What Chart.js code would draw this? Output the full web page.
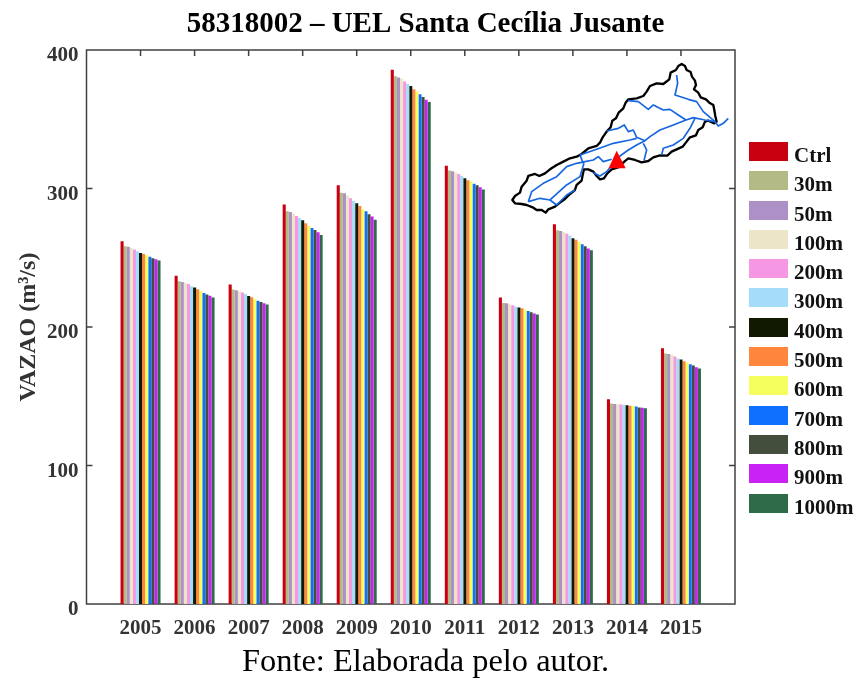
<!DOCTYPE html>
<html>
<head>
<meta charset="utf-8">
<script src="https://cdn.jsdelivr.net/npm/chart.js@4"></script>
<style>
html, body { margin: 0; padding: 0; background: #fff; }
#wrap { position: relative; width: 857px; height: 679px; overflow: hidden; }
#grafico { position: absolute; left: 0; top: 0; }
#mapa { position: absolute; left: 0; top: 0; pointer-events: none; }
#legenda { position: absolute; left: 749px; top: 142px; font: bold 21px "Liberation Serif", serif; color: #111; }
#legenda div { position: relative; height: 29.3px; }
#legenda i { position: absolute; left: 0; top: 0; width: 39px; height: 19px; }
#legenda span { position: absolute; left: 45px; top: 1px; line-height: 24px; white-space: nowrap; }
</style>
</head>
<body>
<div id="wrap">
<canvas id="grafico" width="857" height="679"></canvas>
<svg id="mapa" width="857" height="679"></svg>
<div id="legenda"></div>
</div>
<script>
const anos = [2005, 2006, 2007, 2008, 2009, 2010, 2011, 2012, 2013, 2014, 2015];
const yTicks = [0, 100, 200, 300, 400];

const ctrl  = [262.0, 237.0, 230.7, 288.4, 302.3, 385.8, 316.5, 221.3, 274.2, 147.9, 184.7];
const m30   = [258.3, 233.0, 227.0, 283.5, 297.0, 381.0, 313.0, 217.4, 269.8, 144.7, 180.9];
const m50   = [258.0, 232.5, 226.6, 283.0, 296.5, 380.2, 312.4, 217.2, 269.3, 144.5, 180.6];
const m100  = [257.0, 232.0, 225.8, 282.0, 295.0, 379.5, 311.7, 216.4, 268.6, 144.3, 180.1];
const m200  = [256.0, 231.0, 225.0, 280.2, 293.0, 377.3, 310.5, 215.7, 267.4, 144.0, 178.7];
const m300  = [254.7, 229.5, 223.9, 278.7, 291.0, 375.4, 309.0, 214.8, 266.0, 143.8, 177.2];
const m400  = [253.5, 228.5, 222.4, 277.0, 289.3, 374.0, 307.4, 214.0, 264.0, 143.6, 176.5];
const m500  = [252.7, 227.3, 221.5, 275.0, 287.4, 371.6, 306.0, 213.5, 263.0, 143.1, 175.3];
const m600  = [251.8, 226.0, 220.3, 273.0, 285.0, 370.0, 305.2, 212.6, 261.6, 142.9, 174.4];
const m700  = [250.8, 224.6, 219.0, 271.5, 283.5, 368.0, 303.5, 211.6, 259.7, 142.6, 173.2];
const m800  = [249.6, 223.4, 218.0, 270.0, 281.4, 366.0, 302.3, 210.7, 258.3, 141.9, 172.2];
const m900  = [249.0, 222.5, 217.2, 268.4, 279.7, 364.0, 300.9, 209.7, 256.6, 141.7, 171.0];
const m1000 = [248.0, 221.3, 216.2, 266.5, 277.5, 362.4, 299.2, 209.0, 255.4, 141.4, 170.0];

const nomes = ['Ctrl', '30m', '50m', '100m', '200m', '300m', '400m', '500m', '600m', '700m', '800m', '900m', '1000m'];
const series = [ctrl, m30, m50, m100, m200, m300, m400, m500, m600, m700, m800, m900, m1000];
const cores = ['#c8000f', '#b3ba85', '#ad90c6', '#ece5c8', '#f597e3', '#a5dcfa', '#111a00', '#ff863c', '#f5ff5d', '#0f6fff', '#434f3c', '#c822f5', '#2e6b47'];

const fonte = 'Liberation Serif';
const corEixo = '#404040';

// moldura e marcas internas, estilo matlab
const moldura = {
    id: 'moldura',
    beforeDatasetsDraw(chart) {
        const { ctx, chartArea: a, scales } = chart;
        ctx.save();
        ctx.strokeStyle = corEixo;
        ctx.lineWidth = 1.5;
        ctx.strokeRect(a.left, a.top, a.right - a.left, a.bottom - a.top);
        ctx.beginPath();
        anos.forEach(v => {
            const x = scales.x.getPixelForValue(v);
            ctx.moveTo(x, a.top); ctx.lineTo(x, a.top + 6);
            ctx.moveTo(x, a.bottom); ctx.lineTo(x, a.bottom - 6);
        });
        yTicks.slice(1, -1).forEach(v => {
            const y = scales.y.getPixelForValue(v);
            ctx.moveTo(a.left, y); ctx.lineTo(a.left + 6, y);
            ctx.moveTo(a.right, y); ctx.lineTo(a.right - 6, y);
        });
        ctx.stroke();
        ctx.restore();
    }
};

new Chart(document.getElementById('grafico'), {
    type: 'bar',
    data: {
        datasets: series.map((s, i) => ({
            label: nomes[i],
            data: s.map((v, j) => ({ x: anos[j], y: v })),
            backgroundColor: cores[i],
            barPercentage: 1,
            categoryPercentage: 0.74,
            borderWidth: 0,
        }))
    },
    options: {
        responsive: false,
        animation: false,
        layout: { padding: { left: 0, right: 6, top: 0, bottom: 0 } },
        plugins: {
            legend: { display: false },
            tooltip: { enabled: false },
            title: {
                display: true,
                text: '58318002 – UEL Santa Cecília Jusante',
                color: '#000',
                font: { family: fonte, size: 29, weight: 'bold' },
                padding: { top: 7, bottom: 8.2 },
            },
            subtitle: {
                display: true,
                position: 'bottom',
                text: 'Fonte: Elaborada pelo autor.',
                color: '#000',
                font: { family: fonte, size: 32.4, weight: 'normal' },
                padding: { top: 7, bottom: -3 },
            },
        },
        scales: {
            x: {
                type: 'linear',
                offset: false,
                min: 2004,
                max: 2016,
                grid: { display: false },
                border: { display: false },
                afterBuildTicks: s => { s.ticks = anos.map(v => ({ value: v })); },
                afterFit: s => { s.height = 32.1; },
                ticks: {
                    autoSkip: false,
                    maxRotation: 0,
                    padding: 4,
                    color: '#333',
                    font: { family: fonte, size: 21, weight: 'bold' },
                    callback: v => String(v),
                },
            },
            y: {
                min: 0,
                max: 400,
                grid: { display: false },
                border: { display: false },
                afterFit: s => { s.width = 86.5; },
                ticks: {
                    stepSize: 100,
                    padding: 0,
                    labelOffset: 6,
                    color: '#333',
                    font: { family: fonte, size: 21, weight: 'bold' },
                },
                title: {
                    display: true,
                    text: 'VAZAO (m³/s)',
                    color: '#333',
                    font: { family: fonte, size: 24, weight: 'bold' },
                    padding: { top: 14.6, bottom: 0 },
                },
            },
            // eixo direito so para reservar espaco da legenda
            y1: {
                position: 'right',
                min: 0,
                max: 400,
                grid: { display: false },
                border: { display: false },
                afterFit: s => { s.width = 116; },
                ticks: { stepSize: 100, display: false },
            },
        }
    },
    plugins: [moldura]
});

// legenda
const legenda = document.getElementById('legenda');
nomes.forEach((n, i) => {
    const d = document.createElement('div');
    d.innerHTML = '<i style="background:' + cores[i] + '"></i><span>' + n + '</span>';
    legenda.appendChild(d);
});

// mapa da bacia (inset), coordenadas na escala 3x
const contorno = [[905,42],[915,48],[920,60],[932,66],[936,80],[945,92],[948,105],[942,118],[955,128],[962,142],[978,148],[988,158],[1000,165],[1003,180],[1006,198],[1010,215],[1003,220],[985,212],[975,215],[968,232],[955,240],[948,256],[930,262],[920,275],[908,290],[890,298],[875,305],[862,317],[840,316],[820,322],[805,333],[785,337],[765,330],[745,325],[733,335],[715,352],[695,358],[682,370],[672,385],[660,388],[650,378],[640,365],[625,358],[612,358],[608,375],[605,392],[590,405],[585,420],[570,432],[555,447],[540,458],[525,470],[505,478],[497,488],[485,480],[470,480],[458,472],[440,465],[425,462],[405,460],[397,450],[405,438],[420,428],[425,410],[440,392],[445,378],[465,372],[478,378],[495,370],[510,358],[530,345],[550,335],[570,325],[590,320],[605,312],[625,295],[650,288],[660,278],[668,262],[680,245],[692,232],[697,212],[708,205],[716,188],[730,175],[737,158],[745,148],[770,145],[790,138],[800,125],[810,108],[830,100],[850,102],[868,88],[872,68],[888,60],[895,48]];
const rios = [
    [[1045,205],[1030,220],[1015,228],[1005,215],[975,210],[940,203],[918,210],[880,225],[840,240],[810,260],[795,272],[770,285],[745,300],[720,318],[700,332]],
    [[745,152],[775,155],[805,178],[820,165],[850,180],[870,178],[895,195],[918,210]],
    [[890,75],[893,100],[885,135],[925,148],[950,155],[970,185],[1005,215]],
    [[680,243],[715,235],[733,225],[745,245],[760,240],[770,262],[795,272]],
    [[600,315],[650,298],[700,280],[750,270],[770,265]],
    [[790,280],[800,300],[792,332]],
    [[845,315],[850,295],[880,285],[910,265],[930,235],[945,205]],
    [[445,455],[455,425],[490,400],[530,380],[560,350],[590,340],[615,335],[640,330],[655,320],[670,335],[695,328]],
    [[600,315],[610,340]],
    [[445,455],[480,445],[510,450],[530,465],[560,435],[585,420]],
    [[510,450],[560,405],[600,380],[612,340]],
    [[640,368],[660,378],[680,365],[700,340]],
];
const pts = l => l.map(p => p.join(',')).join(' ');
let svg = '<defs><filter id="suave"><feGaussianBlur stdDeviation="0.4"/></filter></defs>';
svg += '<g transform="translate(380 50) scale(0.3333)" fill="none" stroke-linejoin="round" filter="url(#suave)">';
svg += '<polygon points="' + pts(contorno) + '" stroke="#000" stroke-width="7"/>';
rios.forEach(r => { svg += '<polyline points="' + pts(r) + '" stroke="#1566e0" stroke-width="5"/>'; });
svg += '<polygon points="710,302 737,355 686,355" fill="#ff0000"/></g>';
document.getElementById('mapa').innerHTML = svg;
</script>
</body>
</html>
